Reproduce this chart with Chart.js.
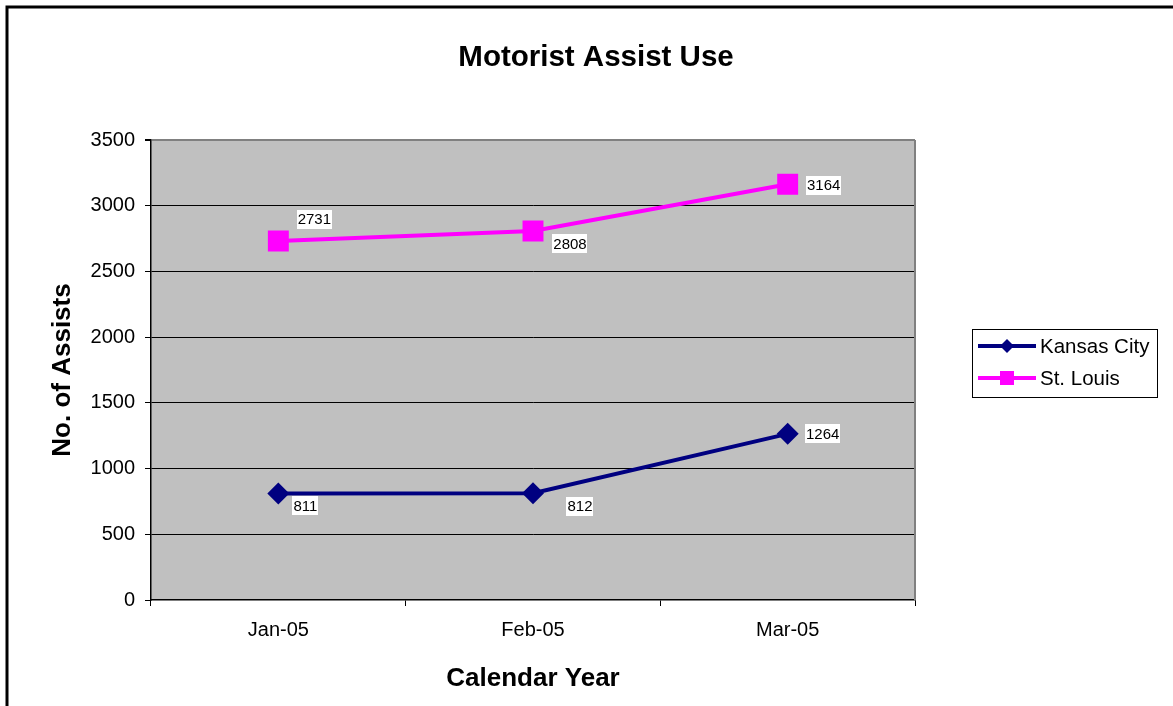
<!DOCTYPE html>
<html>
<head>
<meta charset="utf-8">
<script src="https://cdn.jsdelivr.net/npm/chart.js@4/dist/chart.umd.min.js"></script>
<style>
  html, body { margin: 0; padding: 0; background: #ffffff; }
  #c { display: block; }
</style>
</head>
<body>
<canvas id="c" width="1173" height="706"></canvas>
<script>
const categories = ['Jan-05', 'Feb-05', 'Mar-05'];
const kansasCity = [811, 812, 1264];
const stLouis = [2731, 2808, 3164];
const chartTitle = 'Motorist Assist Use';
const xTitle = 'Calendar Year';
const yTitle = 'No. of Assists';
const yMin = 0, yMax = 3500, yStep = 500;

const FONT = '"Liberation Sans", Arial, sans-serif';

// label offsets (style): [dx, dy] of label centre relative to point
const labelOffsets = [
  [[27, 12], [47, 13], [35, 0]],
  [[36, -22], [37, 13], [36, 1]]
];

const decorPlugin = {
  id: 'decor',
  beforeDraw(chart) {
    const ctx = chart.ctx, a = chart.chartArea;
    ctx.save();
    ctx.fillStyle = '#ffffff';
    ctx.fillRect(0, 0, chart.width, chart.height);
    ctx.strokeStyle = '#000000';
    ctx.lineWidth = 3;
    ctx.strokeRect(7, 7, 1300, 900);
    ctx.fillStyle = '#C0C0C0';
    ctx.fillRect(a.left, a.top, a.right - a.left, a.bottom - a.top);
    // title
    ctx.fillStyle = '#000000';
    ctx.font = 'bold 29.5px ' + FONT;
    ctx.textAlign = 'center';
    ctx.textBaseline = 'middle';
    ctx.fillText(chartTitle, 596, 58);
    ctx.restore();
  },
  beforeDatasetsDraw(chart) {
    const ctx = chart.ctx, a = chart.chartArea;
    ctx.save();
    ctx.strokeStyle = '#808080';
    ctx.lineWidth = 2;
    ctx.beginPath();
    ctx.moveTo(a.right, a.top);
    ctx.lineTo(a.right, a.bottom);
    ctx.stroke();
    ctx.restore();
  },
  afterDatasetsDraw(chart) {
    const ctx = chart.ctx;
    ctx.save();
    ctx.font = '15px ' + FONT;
    ctx.textAlign = 'center';
    ctx.textBaseline = 'middle';
    chart.data.datasets.forEach((ds, di) => {
      const meta = chart.getDatasetMeta(di);
      meta.data.forEach((pt, i) => {
        const txt = String(ds.data[i]);
        const off = labelOffsets[di][i];
        const cx = pt.x + off[0], cy = pt.y + off[1];
        const w = ctx.measureText(txt).width + 2;
        const h = 19;
        ctx.fillStyle = '#ffffff';
        ctx.fillRect(Math.round(cx - w / 2), Math.round(cy - h / 2), Math.round(w), h);
        ctx.fillStyle = '#000000';
        ctx.fillText(txt, cx, cy + 1);
      });
    });
    // legend
    const lx = 972, ly = 329, lw = 185, lh = 68;
    ctx.strokeStyle = '#000000';
    ctx.lineWidth = 1;
    ctx.strokeRect(lx + 0.5, ly + 0.5, lw, lh);
    const rows = [346, 378];
    chart.data.datasets.forEach((ds, di) => {
      const y = rows[di];
      ctx.strokeStyle = ds.borderColor;
      ctx.lineWidth = 4;
      ctx.beginPath();
      ctx.moveTo(978, y);
      ctx.lineTo(1036, y);
      ctx.stroke();
      ctx.fillStyle = ds.borderColor;
      ctx.beginPath();
      if (ds.pointStyle === 'rectRot') {
        const r = 7;
        ctx.moveTo(1007 - r, y);
        ctx.lineTo(1007, y - r);
        ctx.lineTo(1007 + r, y);
        ctx.lineTo(1007, y + r);
        ctx.closePath();
      } else {
        ctx.rect(1000, y - 7, 14, 14);
      }
      ctx.fill();
      ctx.fillStyle = '#000000';
      ctx.font = '20.5px ' + FONT;
      ctx.textAlign = 'left';
      ctx.textBaseline = 'middle';
      ctx.fillText(ds.label, 1040, y + 1);
    });
    ctx.restore();
  }
};

new Chart(document.getElementById('c'), {
  type: 'line',
  data: {
    labels: categories,
    datasets: [
      {
        label: 'Kansas City',
        data: kansasCity,
        borderColor: '#000080',
        backgroundColor: '#000080',
        borderWidth: 4,
        pointStyle: 'rectRot',
        pointRadius: 11,
        pointBorderWidth: 0,
        tension: 0,
        fill: false
      },
      {
        label: 'St. Louis',
        data: stLouis,
        borderColor: '#FF00FF',
        backgroundColor: '#FF00FF',
        borderWidth: 4,
        pointStyle: 'rect',
        pointRadius: 14.8,
        pointBorderWidth: 0,
        tension: 0,
        fill: false
      }
    ]
  },
  options: {
    responsive: false,
    animation: false,
    events: [],
    layout: { padding: { left: 0, top: 140, right: 258, bottom: 0 } },
    plugins: {
      legend: { display: false },
      title: { display: false },
      tooltip: { enabled: false }
    },
    scales: {
      x: {
        offset: true,
        grid: {
          offset: true,
          drawOnChartArea: false,
          drawTicks: true,
          tickLength: 6,
          tickColor: '#000000',
          color: '#000000'
        },
        border: { display: true, color: '#000000', width: 1.5 },
        ticks: { color: '#000000', font: { family: FONT, size: 20 }, padding: 12, maxRotation: 0 },
        title: { display: true, text: xTitle, color: '#000000', font: { family: FONT, size: 26, weight: 'bold' }, padding: { top: 0, bottom: 12 } },
        afterFit(scale) { scale.height = 106; }
      },
      y: {
        min: yMin,
        max: yMax,
        grid: {
          drawTicks: true,
          tickLength: 6,
          tickColor: '#000000',
          color: (c) => (c.tick && c.tick.value === yMax ? '#808080' : (c.tick && c.tick.value === yMin ? 'rgba(0,0,0,0)' : '#000000')),
          lineWidth: (c) => (c.tick && c.tick.value === yMax ? 2 : 1)
        },
        border: { display: true, color: '#000000', width: 1.5 },
        ticks: { stepSize: yStep, color: '#000000', font: { family: FONT, size: 20 }, padding: 10, callback: (v) => String(v) },
        title: { display: true, text: yTitle, color: '#000000', font: { family: FONT, size: 26, weight: 'bold' }, padding: { top: 47, bottom: 0 } },
        afterFit(scale) { scale.width = 151; }
      }
    }
  },
  plugins: [decorPlugin]
});
</script>
</body>
</html>
